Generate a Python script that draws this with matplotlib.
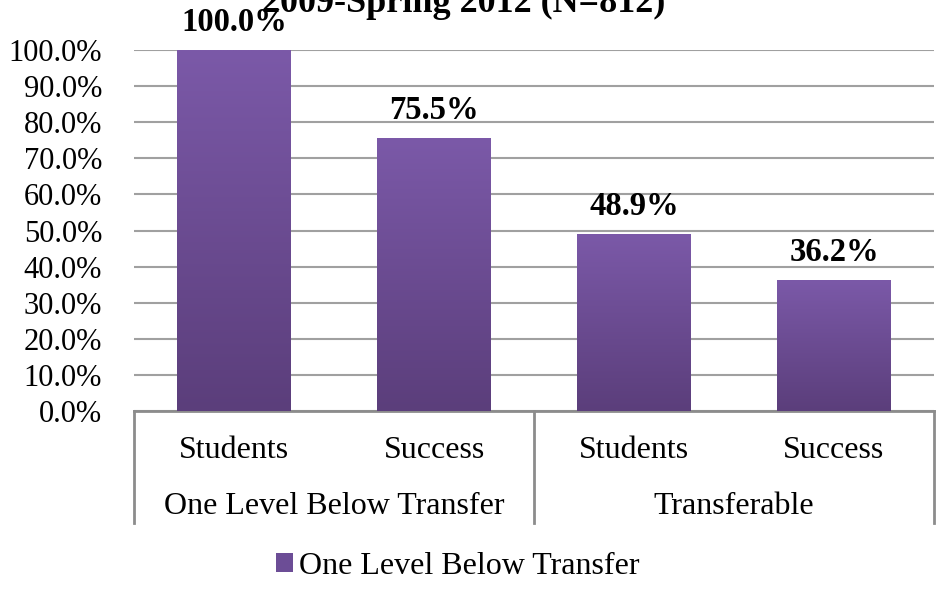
import numpy as np
import matplotlib
matplotlib.use("Agg")
import matplotlib.pyplot as plt
from matplotlib.colors import LinearSegmentedColormap
from matplotlib.patches import Patch

plt.rcParams['font.family'] = ['Liberation Serif', 'DejaVu Serif']

title = "2009-Spring 2012 (N=812)"
sub_labels = ["Students", "Success", "Students", "Success"]
group_labels = ["One Level Below Transfer", "Transferable"]
values = [100.0, 75.5, 48.9, 36.2]
series_name = "One Level Below Transfer"

grad = LinearSegmentedColormap.from_list("purp", ["#5b3e7b", "#7b59a8"])

fig = plt.figure(figsize=(9.5, 6.05), dpi=100)
ax = fig.add_axes([134 / 950, 1 - 411 / 605, 800 / 950, 361 / 605])

x = np.arange(len(values))
bars = ax.bar(x, values, width=0.57, color="none", zorder=3)

# vertical gradient inside each bar
ramp = np.linspace(0, 1, 256).reshape(-1, 1)
for b in bars:
    x0, y0 = b.get_x(), b.get_y()
    w, h = b.get_width(), b.get_height()
    ax.imshow(ramp, cmap=grad, origin="lower", aspect="auto",
              extent=(x0, x0 + w, y0, y0 + h), zorder=3)

for xi, v in zip(x, values):
    ax.annotate(f"{v:.1f}%", (xi, v), xytext=(0, 14), textcoords="offset points",
                ha="center", va="baseline", fontsize=23.5, fontweight="bold", zorder=5)

ax.set_xlim(-0.5, len(values) - 0.5)
ax.set_ylim(0, 100)
ax.set_yticks(np.arange(0, 101, 10))
ax.set_yticklabels([f"{t:.1f}%" for t in np.arange(0, 101, 10)], fontsize=22)
ax.yaxis.grid(True, color="#a0a0a0", linewidth=1.5, zorder=0)
ax.set_axisbelow(True)
ax.tick_params(axis="y", length=0, pad=23)
ax.tick_params(axis="x", length=0)
ax.set_xticks([])
for s in ["top", "right", "left"]:
    ax.spines[s].set_visible(False)
ax.spines["bottom"].set_color("#8c8c8c")
ax.spines["bottom"].set_linewidth(2)

# two-level category axis
tr = ax.get_xaxis_transform()
for xi, lab in zip(x, sub_labels):
    ax.text(xi, -40 / 361, lab, transform=tr, ha="center", va="center", fontsize=23)
for gi, lab in enumerate(group_labels):
    ax.text(gi * 2 + 0.5, -96 / 361, lab, transform=tr, ha="center", va="center", fontsize=23)
for sx in [-0.5, 1.5, 3.5]:
    ax.plot([sx, sx], [0, -112 / 361], transform=tr, color="#8c8c8c", linewidth=2,
            clip_on=False)

fig.text(464 / 950, 1 - 12 / 605, title, ha="center", va="baseline",
         fontsize=26, fontweight="bold", zorder=1)

handle = Patch(facecolor="#6c4d96", edgecolor="none")
fig.legend([handle], [series_name], loc="center left", bbox_to_anchor=(260 / 950, 1 - 566 / 605),
           frameon=False, fontsize=23, borderpad=0, handlelength=0.53, handleheight=0.53,
           handletextpad=0.2)

fig.savefig("out.png", dpi=100)
